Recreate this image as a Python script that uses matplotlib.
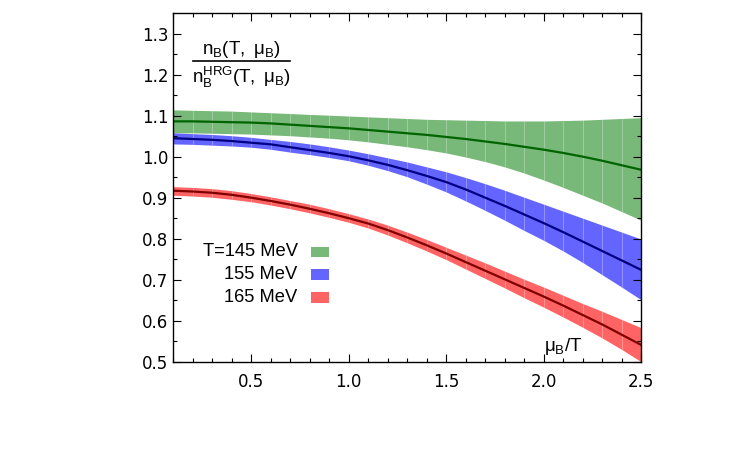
import numpy as np
import matplotlib
matplotlib.use("Agg")
import matplotlib.pyplot as plt
from matplotlib.patches import Rectangle

plt.rcParams['mathtext.fontset'] = 'custom'
plt.rcParams['mathtext.rm'] = 'Liberation Sans'
plt.rcParams['mathtext.it'] = 'Liberation Sans:italic'

mu = [0.1, 0.2, 0.3, 0.4, 0.5, 0.6, 0.7, 0.8, 0.9, 1.0, 1.1, 1.2, 1.3,
      1.4, 1.5, 1.6, 1.7, 1.8, 1.9, 2.0, 2.1, 2.2, 2.3, 2.4, 2.5]

# T = 145 MeV
g_mid = [1.086, 1.086, 1.085, 1.084, 1.083, 1.081, 1.078, 1.075, 1.072, 1.069,
         1.065, 1.061, 1.057, 1.053, 1.048, 1.043, 1.037, 1.031, 1.024, 1.017,
         1.009, 1.000, 0.990, 0.979, 0.968]
g_hi = [1.114, 1.113, 1.112, 1.111, 1.109, 1.107, 1.105, 1.103, 1.101, 1.099,
        1.097, 1.095, 1.093, 1.091, 1.090, 1.089, 1.088, 1.087, 1.087, 1.087,
        1.088, 1.089, 1.091, 1.093, 1.095]
g_lo = [1.058, 1.058, 1.057, 1.056, 1.055, 1.053, 1.051, 1.048, 1.045, 1.041,
        1.036, 1.030, 1.024, 1.017, 1.009, 0.999, 0.988, 0.975, 0.960, 0.943,
        0.925, 0.906, 0.887, 0.866, 0.845]

# T = 155 MeV
b_mid = [1.045, 1.043, 1.041, 1.038, 1.034, 1.030, 1.023, 1.016, 1.009, 1.001,
         0.991, 0.980, 0.967, 0.953, 0.938, 0.920, 0.900, 0.880, 0.859, 0.838,
         0.816, 0.793, 0.770, 0.747, 0.724]
b_hi = [1.058, 1.056, 1.054, 1.051, 1.047, 1.042, 1.037, 1.031, 1.024, 1.016,
        1.007, 0.997, 0.987, 0.975, 0.963, 0.949, 0.934, 0.918, 0.901, 0.884,
        0.867, 0.850, 0.833, 0.816, 0.799]
b_lo = [1.031, 1.030, 1.028, 1.026, 1.023, 1.018, 1.011, 1.005, 0.998, 0.990,
        0.979, 0.966, 0.951, 0.933, 0.914, 0.892, 0.869, 0.845, 0.820, 0.796,
        0.770, 0.742, 0.712, 0.682, 0.651]

# T = 165 MeV
r_mid = [0.917, 0.915, 0.912, 0.907, 0.900, 0.892, 0.883, 0.873, 0.862, 0.850,
         0.837, 0.821, 0.803, 0.784, 0.764, 0.743, 0.722, 0.701, 0.680, 0.659,
         0.637, 0.614, 0.591, 0.566, 0.541]
r_hi = [0.927, 0.925, 0.922, 0.917, 0.910, 0.902, 0.893, 0.884, 0.873, 0.861,
        0.848, 0.833, 0.816, 0.798, 0.779, 0.760, 0.741, 0.721, 0.701, 0.682,
        0.662, 0.642, 0.623, 0.603, 0.583]
r_lo = [0.906, 0.904, 0.901, 0.896, 0.890, 0.882, 0.873, 0.863, 0.852, 0.840,
        0.826, 0.809, 0.790, 0.770, 0.749, 0.726, 0.703, 0.680, 0.656, 0.633,
        0.609, 0.584, 0.558, 0.530, 0.500]

labels = ["T=145 MeV", "155 MeV", "165 MeV"]

fig = plt.figure(figsize=(7.5, 4.5), dpi=100)
ax = fig.add_axes([0.231, 0.196, 0.624, 0.775])

band_colors = ["#78b878", "#6464ff", "#ff6464"]
line_colors = ["#006400", "#000080", "#800000"]
bands = [(g_lo, g_hi, g_mid), (b_lo, b_hi, b_mid), (r_lo, r_hi, r_mid)]

# faint white seams inside the bands, like the original's filled curves
seam_x = np.arange(0.2, 2.5, 0.1)
for (lo, hi, mid), fc, lc in zip(bands, band_colors, line_colors):
    fb = ax.fill_between(mu, lo, hi, color=fc, lw=0)
    vl = ax.vlines(seam_x, 0.5, 1.35, colors="white", alpha=0.3, lw=0.7)
    vl.set_clip_path(fb.get_paths()[0], ax.transData)
    ax.plot(mu, mid, color=lc, lw=1.6)

ax.set_xlim(0.1, 2.5)
ax.set_ylim(0.5, 1.35)
ax.set_xticks([0.5, 1.0, 1.5, 2.0, 2.5])
ax.set_yticks(np.arange(0.5, 1.31, 0.1))
ax.set_xticks(np.arange(0.1, 2.5, 0.1), minor=True)
ax.set_yticks(np.arange(0.5, 1.35, 0.05), minor=True)
ax.xaxis.set_major_formatter(plt.FormatStrFormatter('%.1f'))
ax.yaxis.set_major_formatter(plt.FormatStrFormatter('%.1f'))
ax.tick_params(which='both', direction='in', top=True, right=True, labelsize=12)
ax.tick_params(which='major', length=6, width=0.8)
ax.tick_params(which='minor', length=3, width=0.8)
ax.tick_params(axis='x', pad=8)
for s in ax.spines.values():
    s.set_linewidth(1.0)

# ratio label
ax.text(0.45, 1.251, r'$\mathrm{n_B(T,\ μ_B)}$', ha='center', va='baseline', fontsize=13.5)
ax.plot([0.2, 0.697], [1.234, 1.234], color='black', lw=1.2)
ax.text(0.45, 1.180, r'$\mathrm{n_B^{HRG}(T,\ μ_B)}$', ha='center', va='baseline', fontsize=13.5)

# legend
for lab, yy, c in zip(labels, [0.768, 0.713, 0.657], band_colors):
    ax.text(0.738, yy, lab, ha='right', va='center', fontsize=13.2, family='Liberation Sans')
    ax.add_patch(Rectangle((0.808, yy - 0.013), 0.09, 0.026, color=c, lw=0))

ax.text(2.098, 0.538, r'$\mathrm{μ_B/T}$', ha='center', va='center', fontsize=13.5)

fig.savefig("out.png", dpi=100)
